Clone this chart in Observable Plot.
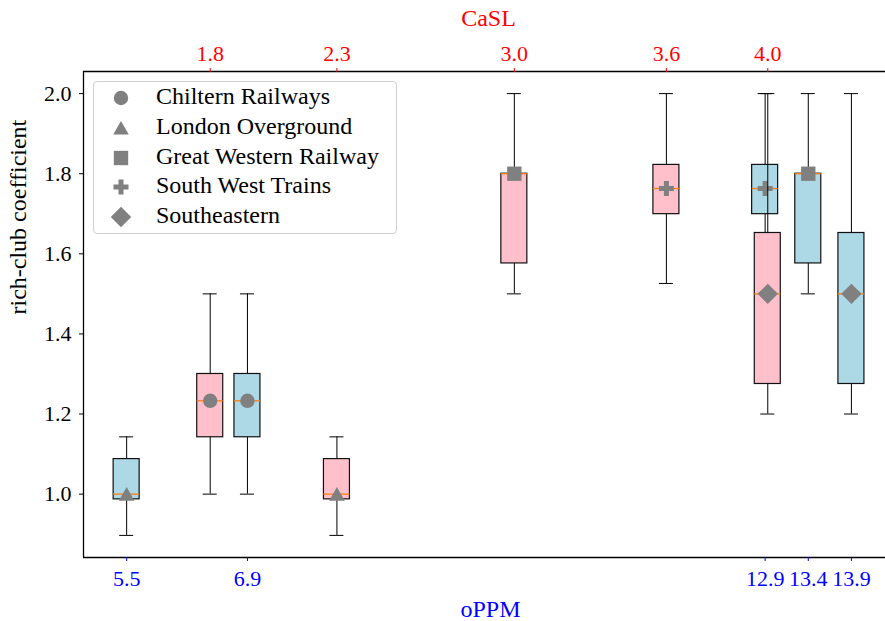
<!DOCTYPE html>
<html><head><meta charset="utf-8">
<script src="https://cdn.jsdelivr.net/npm/d3@7"></script>
<script src="https://cdn.jsdelivr.net/npm/@observablehq/plot@0.6"></script>
<style>
html,body{margin:0;padding:0;background:#fff;overflow:hidden;}
#chart{position:relative;width:885px;height:621px;}
#chart, #chart *, #chart svg text{font-family:'Liberation Serif', 'Times New Roman', Times, serif !important;}
#chart > svg{position:absolute;left:0;top:0;}
#legend{position:absolute;left:93px;top:81px;width:304px;height:153px;border:1px solid #d0d0d0;border-radius:4px;background:rgba(255,255,255,0.8);box-sizing:border-box;}
#legend .row{position:absolute;left:0;height:30px;font-size:24px;color:#000;white-space:nowrap;}
#legend svg{position:absolute;left:12px;top:0;}
#legend span{position:absolute;left:62px;top:-2px;line-height:30px;}
</style></head><body><div id="chart"></div>
<script>
// ---- data ----
const companies = ["Chiltern Railways","London Overground","Great Western Railway","South West Trains","Southeastern"];
const oPPM = [6.9, 5.5, 13.4, 12.9, 13.9];
const CaSL = [1.8, 2.3, 3.0, 3.6, 4.0];
const whiskerLow = [1.0, 0.897, 1.5, 1.526, 1.2];
const q1 = [1.142, 0.987, 1.576, 1.699, 1.275];
const median = [1.233, 1.0, 1.8, 1.763, 1.5];
const q3 = [1.30, 1.0875, 1.8, 1.822, 1.652];
const whiskerHigh = [1.5, 1.143, 2.0, 2.0, 2.0];
const oPPMTicks = [5.5, 6.9, 12.9, 13.4, 13.9];
const CaSLTicks = [1.8, 2.3, 3.0, 3.6, 4.0];
const yTicks = [1.0, 1.2, 1.4, 1.6, 1.8, 2.0];

const rows = companies.map((c, i) => ({company: c, oPPM: oPPM[i], CaSL: CaSL[i], low: whiskerLow[i], q1: q1[i], med: median[i], q3: q3[i], high: whiskerHigh[i]}));

// ---- styles ----
const symbolNames = ["circle", "triangle", "square", "cross", "diamond2"];
const d3Symbols = [d3.symbolCircle, d3.symbolTriangle, d3.symbolSquare, d3.symbolCross, d3.symbolDiamond2];
const markerR = [7.2, 5.8, 8.1, 6.3, 9.2];
const markerDy = [0, 2, 0, 0, 0];
const W = 885, H = 621, mL = 83, mT = 71, mB = 64, mR = 0;
const xDomain = [5.0, 14.295], tDomain = [1.3, 4.4645], yDomain = [0.8418, 2.0552];
const font = "Liberation Serif";
const tickFont = 22, labelFont = 24;

function boxMarks(key, domain, fill) {
  const ppu = (W - mL - mR) / (domain[1] - domain[0]);
  const hw = 13 / ppu, cw = 7 / ppu;
  return [
    Plot.ruleX(rows, {x: key, y1: "low", y2: "high", stroke: "#000", strokeWidth: 1}),
    Plot.ruleY(rows, {y: "low", x1: d => d[key] - cw, x2: d => d[key] + cw, stroke: "#000", strokeWidth: 1}),
    Plot.ruleY(rows, {y: "high", x1: d => d[key] - cw, x2: d => d[key] + cw, stroke: "#000", strokeWidth: 1}),
    Plot.rect(rows, {x1: d => d[key] - hw, x2: d => d[key] + hw, y1: "q1", y2: "q3", fill, stroke: "#111", strokeWidth: 1.2}),
    Plot.ruleY(rows, {y: "med", x1: d => d[key] - hw, x2: d => d[key] + hw, stroke: "#ff7f0e", strokeWidth: 1.3}),
    ...companies.map((c, i) => Plot.dot(rows.filter(d => d.company === c), {x: key, y: "med", symbol: symbolNames[i], r: markerR[i], dy: markerDy[i], fill: "#808080", stroke: "none"}))
  ];
}

const common = {
  width: W, height: H, marginLeft: mL, marginRight: mR, marginTop: mT, marginBottom: mB,
  style: {background: "transparent", fontFamily: font, fontSize: tickFont + "px", overflow: "visible"}
};

const bottomPlot = Plot.plot({
  ...common,
  x: {domain: xDomain},
  y: {domain: yDomain},
  marks: [
    ...boxMarks("oPPM", xDomain, "#add8e6"),
    Plot.ruleY(yDomain, {stroke: "#000", strokeWidth: 1.3}),
    Plot.ruleX([xDomain[0]], {stroke: "#000", strokeWidth: 1.3}),
    Plot.axisY({ticks: yTicks, tickFormat: d3.format(".1f"), tickSize: 4, tickPadding: 8, fontSize: tickFont, fontFamily: font, label: null, color: "#000"}),
    Plot.axisX({anchor: "bottom", ticks: oPPMTicks, tickFormat: d3.format(".1f"), tickSize: 4, tickPadding: 9, fontSize: tickFont, fontFamily: font, label: null, color: "blue"}),
    Plot.text(["oPPM"], {text: d => d, frameAnchor: "bottom", dy: 52, dx: 6, lineAnchor: "middle", fill: "blue", fontSize: labelFont, fontFamily: font}),
    Plot.text(["rich-club coefficient"], {text: d => d, frameAnchor: "left", dx: -65.5, rotate: -90, lineAnchor: "middle", fill: "#000", fontSize: labelFont, fontFamily: font})
  ]
});

const topPlot = Plot.plot({
  ...common,
  x: {domain: tDomain},
  y: {domain: yDomain, axis: null},
  marks: [
    ...boxMarks("CaSL", tDomain, "#ffc0cb"),
    Plot.axisX({anchor: "top", ticks: CaSLTicks, tickFormat: d3.format(".1f"), tickSize: 4, tickPadding: 7, fontSize: tickFont, fontFamily: font, label: null, color: "red"}),
    Plot.text(["CaSL"], {text: d => d, frameAnchor: "top", dy: -53.5, dx: 4, lineAnchor: "middle", fill: "red", fontSize: labelFont, fontFamily: font})
  ]
});

const chart = document.getElementById("chart");
chart.appendChild(bottomPlot);
chart.appendChild(topPlot);

// legend
const legend = document.createElement("div");
legend.id = "legend";
companies.forEach((c, i) => {
  const row = document.createElement("div");
  row.className = "row";
  row.style.top = (1.3 + i * 29.7) + "px";
  const svg = d3.create("svg").attr("width", 30).attr("height", 30);
  svg.append("path")
    .attr("transform", `translate(15,${15 + markerDy[i]})`)
    .attr("d", d3.symbol(d3Symbols[i], Math.PI * markerR[i] * markerR[i])())
    .attr("fill", "#808080");
  row.appendChild(svg.node());
  const span = document.createElement("span");
  span.textContent = c;
  row.appendChild(span);
  legend.appendChild(row);
});
chart.appendChild(legend);
</script></body></html>
